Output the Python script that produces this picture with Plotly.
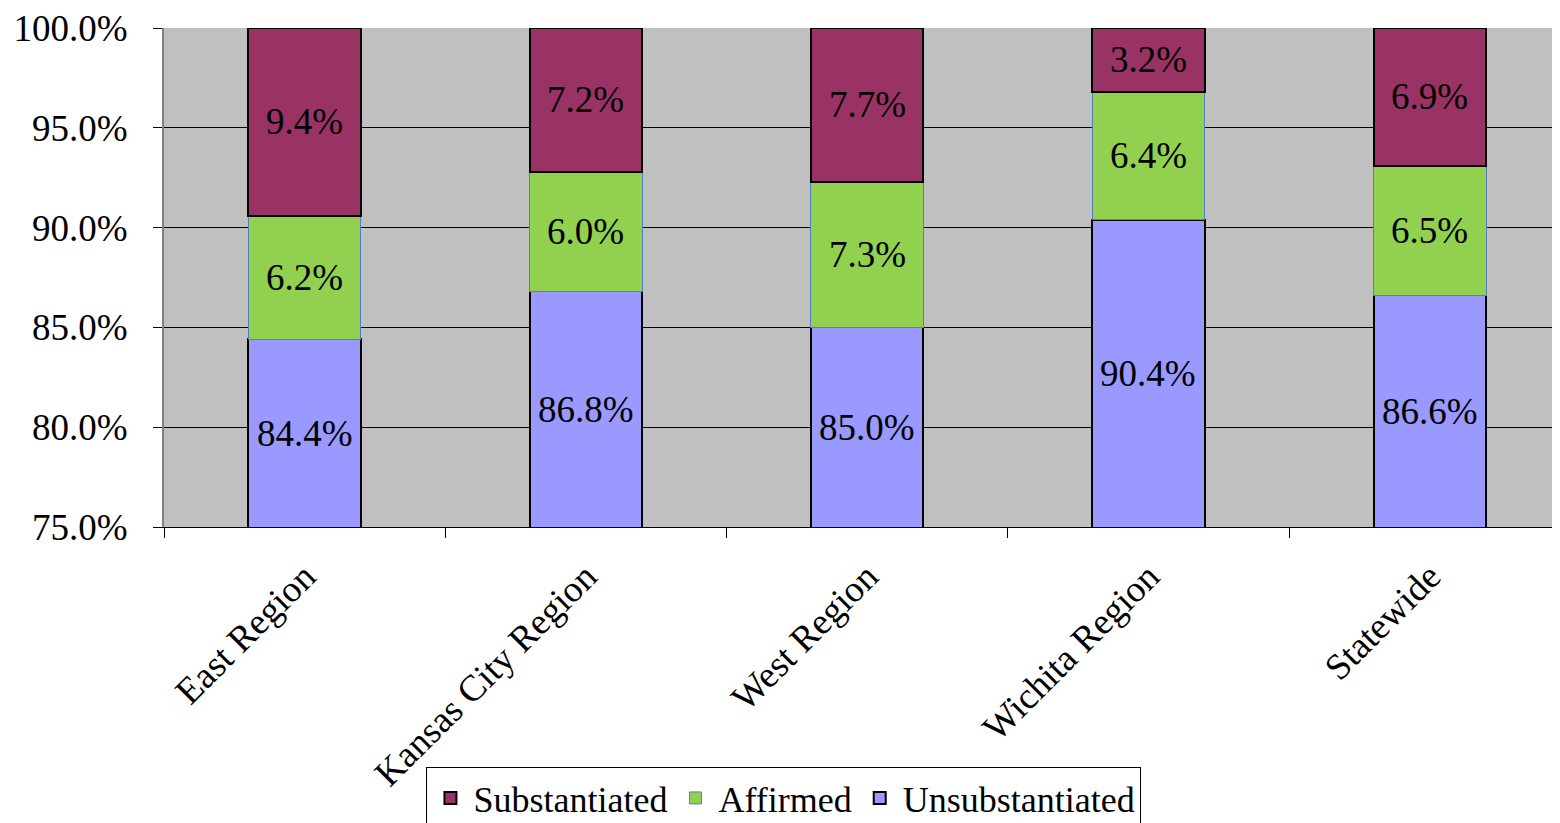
import plotly.graph_objects as go

categories = ["East Region", "Kansas City Region", "West Region", "Wichita Region", "Statewide"]
unsubstantiated = [84.4, 86.8, 85.0, 90.4, 86.6]
affirmed = [6.2, 6.0, 7.3, 6.4, 6.5]
substantiated = [9.4, 7.2, 7.7, 3.2, 6.9]

Y_MIN, Y_MAX = 75.0, 100.0
FONT = "Liberation Serif, Times New Roman, serif"
FS = 37

fig = go.Figure()
fig.add_trace(go.Bar(name="Unsubstantiated", x=categories, y=unsubstantiated,
                     marker=dict(color="#9999FF", line=dict(color="black", width=2))))
fig.add_trace(go.Bar(name="Affirmed", x=categories, y=affirmed,
                     marker=dict(color="#92D050", line=dict(color="#4F81BD", width=1))))
fig.add_trace(go.Bar(name="Substantiated", x=categories, y=substantiated,
                     marker=dict(color="#993366", line=dict(color="black", width=2))))

annotations = []
for i, c in enumerate(categories):
    u, a, s = unsubstantiated[i], affirmed[i], substantiated[i]
    annotations.append(dict(x=c, y=(Y_MIN + u) / 2, text=f"{u:.1f}%"))
    annotations.append(dict(x=c, y=u + a / 2, text=f"{a:.1f}%"))
    annotations.append(dict(x=c, y=u + a + s / 2, text=f"{s:.1f}%"))
for an in annotations:
    an.update(xref="x", yref="y", showarrow=False,
              font=dict(family=FONT, size=FS, color="black"))

fig.update_layout(
    width=1552, height=815,
    barmode="stack",
    bargap=0.6,
    plot_bgcolor="#C0C0C0",
    paper_bgcolor="white",
    margin=dict(l=156, r=0, t=20, b=296, autoexpand=False),
    font=dict(family=FONT, size=FS, color="black"),
    showlegend=True,
    legend=dict(orientation="h", x=0.188, y=-0.481, xanchor="left", yanchor="top",
                traceorder="reversed", bordercolor="black", borderwidth=1,
                itemwidth=36,
                font=dict(family=FONT, size=36, color="black"), itemclick=False),
    annotations=annotations,
)
fig.update_xaxes(
    type="category", range=[-0.5, 4.463], tickangle=-45,
    tickson="boundaries", ticks="outside", ticklen=10, tickcolor="black",
    ticklabelstandoff=12,
    showline=True, linecolor="black", linewidth=1, showgrid=False,
    tickfont=dict(family=FONT, size=FS, color="black"),
)
fig.update_yaxes(
    range=[Y_MIN, Y_MAX], dtick=5, tickformat=".1f", ticksuffix="%",
    ticks="outside", ticklen=9, tickcolor="black", ticklabelstandoff=18,
    ticklabeloverflow="allow",
    showline=True, linecolor="#808080", linewidth=2,
    showgrid=True, gridcolor="black", gridwidth=1, zeroline=False,
    tickfont=dict(family=FONT, size=FS, color="black"),
)

fig.write_html("out.html")
